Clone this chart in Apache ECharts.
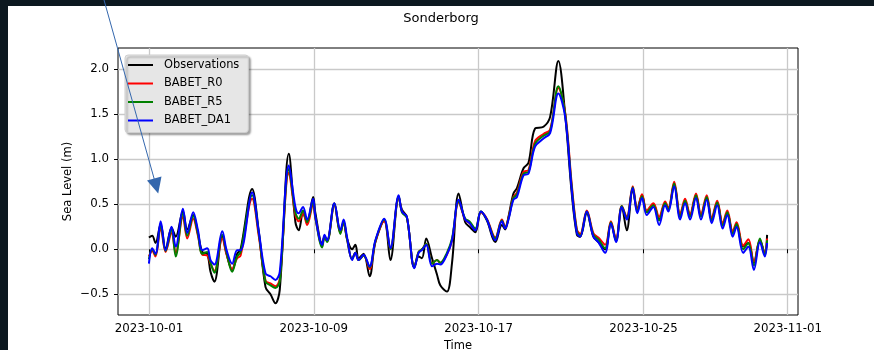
<!DOCTYPE html>
<html>
<head>
<meta charset="utf-8">
<script src="https://cdn.jsdelivr.net/npm/echarts@6/dist/echarts.min.js"></script>
<style>
  html, body { margin: 0; padding: 0; background: #0c1820; }
  #chart { width: 874px; height: 350px; }
</style>
</head>
<body>
<div id="chart"></div>
<script>
// Sea level at Sonderborg, October 2023: observations vs three BABET model runs.
const startDate = '2023-10-01T00:00:00Z';

// Sample times, in days after the start date
const dayOffsets = [
  0.00, 0.16, 0.32, 0.57, 0.81, 1.10, 1.30, 1.65, 1.86, 2.15,
  2.38, 2.59, 2.83, 2.99, 3.18, 3.56, 3.77, 4.04, 4.28, 4.45,
  5.01, 5.33, 5.66, 5.90, 6.14, 6.35, 6.79, 7.11, 7.27, 7.48,
  7.68, 7.97, 8.08, 8.41, 8.52, 8.65, 9.00, 9.29, 9.45, 9.61,
  9.86, 10.02, 10.18, 10.42, 10.71, 10.99, 11.42, 11.72, 12.12, 12.28,
  12.52, 12.88, 13.09, 13.25, 13.46, 13.74, 13.98, 14.14, 14.46, 14.71,
  15.03, 15.35, 15.56, 15.84, 16.11, 16.40, 16.81, 17.13, 17.29, 17.45,
  17.69, 17.86, 18.18, 18.42, 18.74, 19.15, 19.47, 19.87, 20.20, 20.52,
  20.77, 20.93, 21.25, 21.57, 21.81, 22.14, 22.42, 22.67, 22.95, 23.19,
  23.48, 23.70, 23.93, 24.16, 24.48, 24.76, 25.05, 25.21, 25.49, 25.78,
  26.02, 26.26, 26.55, 26.79, 27.07, 27.31, 27.58, 27.84, 28.07, 28.33,
  28.52, 28.84, 29.09, 29.36, 29.65, 29.89, 30.00
];

const observations = [
  0.13, 0.15, 0.07, 0.28, 0.00, 0.24, 0.14, 0.42, 0.22, 0.38,
  0.18, -0.03, -0.05, -0.25, -0.36, 0.15, -0.05, -0.23, -0.05, 0.00,
  0.67, 0.20, -0.42, -0.50, -0.60, -0.45, 1.06, 0.30, 0.21, 0.40,
  0.30, 0.58, 0.40, 0.06, 0.14, 0.10, 0.51, 0.20, 0.30, 0.12,
  0.00, 0.05, -0.10, -0.05, -0.30, 0.08, 0.32, -0.12, 0.58, 0.44,
  0.36, -0.20, -0.08, -0.10, 0.12, -0.10, -0.28, -0.40, -0.47, -0.15,
  0.62, 0.30, 0.25, 0.19, 0.42, 0.32, 0.08, 0.27, 0.22, 0.36,
  0.62, 0.68, 0.90, 0.96, 1.34, 1.36, 1.47, 2.09, 1.50, 0.62,
  0.16, 0.14, 0.40, 0.14, 0.08, 0.00, 0.29, 0.10, 0.47, 0.21,
  0.66, 0.45, 0.60, 0.42, 0.50, 0.33, 0.51, 0.45, 0.72, 0.37,
  0.53, 0.37, 0.60, 0.37, 0.57, 0.33, 0.52, 0.28, 0.40, 0.19,
  0.27, 0.03, 0.07, -0.15, 0.10, -0.05, 0.16
];

const babetR0 = [
  -0.08, -0.02, -0.08, 0.24, -0.03, 0.18, -0.04, 0.36, 0.12, 0.34,
  0.15, -0.06, -0.07, -0.16, -0.24, 0.12, -0.06, -0.22, -0.10, -0.07,
  0.56, 0.15, -0.35, -0.38, -0.41, -0.33, 0.85, 0.38, 0.31, 0.40,
  0.27, 0.50, 0.34, 0.04, 0.14, 0.09, 0.49, 0.18, 0.30, 0.12,
  -0.11, -0.04, -0.12, -0.07, -0.22, 0.08, 0.31, 0.00, 0.58, 0.42,
  0.35, -0.20, -0.03, 0.00, 0.06, -0.16, -0.12, -0.15, -0.06, 0.10,
  0.52, 0.33, 0.29, 0.22, 0.41, 0.34, 0.13, 0.33, 0.25, 0.35,
  0.58, 0.63, 0.86, 0.88, 1.20, 1.28, 1.33, 1.79, 1.52, 0.72,
  0.22, 0.17, 0.43, 0.18, 0.13, 0.05, 0.31, 0.11, 0.48, 0.36,
  0.70, 0.44, 0.61, 0.43, 0.51, 0.36, 0.53, 0.46, 0.75, 0.39,
  0.56, 0.39, 0.62, 0.39, 0.60, 0.35, 0.54, 0.29, 0.43, 0.20,
  0.30, 0.04, 0.11, -0.14, 0.10, -0.04, 0.12
];

const babetR5 = [
  -0.11, 0.00, -0.06, 0.27, -0.02, 0.22, -0.08, 0.40, 0.15, 0.37,
  0.17, -0.05, -0.03, -0.15, -0.26, 0.16, -0.04, -0.25, -0.08, -0.03,
  0.60, 0.18, -0.36, -0.40, -0.43, -0.35, 0.89, 0.41, 0.34, 0.43,
  0.30, 0.53, 0.35, 0.02, 0.13, 0.08, 0.50, 0.17, 0.31, 0.12,
  -0.11, -0.04, -0.12, -0.07, -0.20, 0.09, 0.33, 0.00, 0.59, 0.41,
  0.35, -0.20, -0.03, 0.00, 0.06, -0.16, -0.12, -0.15, -0.04, 0.12,
  0.53, 0.34, 0.31, 0.23, 0.42, 0.33, 0.12, 0.32, 0.24, 0.34,
  0.57, 0.61, 0.84, 0.86, 1.17, 1.26, 1.31, 1.81, 1.50, 0.69,
  0.20, 0.15, 0.42, 0.16, 0.11, 0.01, 0.30, 0.09, 0.48, 0.34,
  0.69, 0.42, 0.59, 0.41, 0.49, 0.32, 0.51, 0.44, 0.73, 0.36,
  0.54, 0.36, 0.60, 0.36, 0.58, 0.32, 0.52, 0.26, 0.41, 0.17,
  0.28, 0.00, 0.07, -0.18, 0.12, -0.06, 0.10
];

const babetDA1 = [
  -0.16, 0.01, -0.05, 0.31, -0.01, 0.25, 0.03, 0.45, 0.18, 0.41,
  0.21, -0.01, 0.01, -0.12, -0.17, 0.20, -0.01, -0.16, -0.01, -0.01,
  0.63, 0.20, -0.27, -0.30, -0.34, -0.25, 0.93, 0.47, 0.40, 0.47,
  0.33, 0.56, 0.36, 0.05, 0.16, 0.10, 0.51, 0.21, 0.33, 0.14,
  -0.12, -0.04, -0.12, -0.06, -0.19, 0.10, 0.34, 0.01, 0.60, 0.42,
  0.36, -0.21, -0.04, -0.01, 0.05, -0.19, -0.16, -0.17, -0.06, 0.10,
  0.55, 0.33, 0.29, 0.21, 0.42, 0.33, 0.10, 0.31, 0.23, 0.33,
  0.55, 0.58, 0.82, 0.84, 1.14, 1.23, 1.29, 1.73, 1.47, 0.66,
  0.18, 0.14, 0.42, 0.14, 0.08, -0.04, 0.29, 0.08, 0.47, 0.33,
  0.68, 0.40, 0.57, 0.38, 0.47, 0.27, 0.49, 0.42, 0.70, 0.33,
  0.51, 0.33, 0.57, 0.33, 0.55, 0.29, 0.49, 0.23, 0.38, 0.14,
  0.25, -0.04, 0.03, -0.23, 0.08, -0.08, 0.07
];

const xTickLabels = ['2023-10-01', '2023-10-09', '2023-10-17', '2023-10-25', '2023-11-01'];
const yTickValues = [-0.5, 0.0, 0.5, 1.0, 1.5, 2.0];

const DAY = 86400000;
const t0 = Date.parse(startDate);
const xTicks = xTickLabels.map(s => Date.parse(s + 'T00:00:00Z'));
const pairs = vals => dayOffsets.map((d, i) => [t0 + d * DAY, vals[i]]);

const FONT = 'DejaVu Sans';
const chart = echarts.init(document.getElementById('chart'), null, { renderer: 'canvas' });

function lineSeries(name, vals, color) {
  return {
    name, type: 'line', data: pairs(vals),
    symbol: 'none', smooth: 0.35,
    lineStyle: { color, width: 2 }, itemStyle: { color },
    emphasis: { disabled: true }
  };
}

chart.setOption({
  backgroundColor: '#0c1820',
  animation: false,
  grid: {
    left: 118, top: 48, width: 680, height: 267, outerBoundsMode: 'none',
    show: true, borderColor: '#000', borderWidth: 1, backgroundColor: 'transparent'
  },
  xAxis: {
    // time in milliseconds on a linear scale
    type: 'value',
    min: t0 - 1.5 * DAY, max: t0 + 31.5 * DAY,
    name: 'Time', nameLocation: 'middle', nameGap: 22,
    nameTextStyle: { fontFamily: FONT, fontSize: 11.5, color: '#000' },
    axisLine: { show: false },
    axisTick: { show: true, length: 4, lineStyle: { color: '#000' }, customValues: xTicks },
    axisLabel: {
      fontFamily: FONT, fontSize: 11.8, color: '#000', margin: 8, customValues: xTicks,
      formatter: v => { const i = xTicks.indexOf(v); return i >= 0 ? xTickLabels[i] : ''; }
    },
    splitLine: { show: true, lineStyle: { color: '#c9c9c9', width: 1.3 } }
  },
  yAxis: {
    type: 'value', min: -0.73, max: 2.235,
    name: 'Sea Level (m)', nameLocation: 'middle', nameGap: 44, nameRotate: 90,
    nameMoveOverlap: false,
    nameTextStyle: { fontFamily: FONT, fontSize: 11.5, color: '#000' },
    axisLine: { show: false },
    axisTick: { show: true, length: 4, lineStyle: { color: '#000' }, customValues: yTickValues },
    axisLabel: {
      fontFamily: FONT, fontSize: 11.8, color: '#000', margin: 9, customValues: yTickValues,
      formatter: v => (v < 0 ? '\u2212' : '') + Math.abs(v).toFixed(1)
    },
    splitLine: { show: true, lineStyle: { color: '#c9c9c9', width: 1.3 } }
  },
  legend: {
    orient: 'vertical', left: 125, top: 55,
    padding: [4.5, 9, 6.5, 3],
    icon: 'rect', itemWidth: 25, itemHeight: 2, itemGap: 7.5,
    backgroundColor: '#e6e6e6', borderColor: '#cfcfcf', borderWidth: 1, borderRadius: 3,
    shadowColor: 'rgba(0,0,0,0.35)', shadowBlur: 2, shadowOffsetX: 2, shadowOffsetY: 2,
    textStyle: { fontFamily: FONT, fontSize: 11.4, color: '#000', padding: [0, 0, 0, 6] },
    data: ['Observations', 'BABET_R0', 'BABET_R5', 'BABET_DA1']
  },
  graphic: [
    { type: 'rect', z: -100, silent: true, shape: { x: 8, y: 6, width: 866, height: 344 }, style: { fill: '#ffffff' } },
    { type: 'text', z: 10, x: 441, y: 19, style: { text: 'Sonderborg', font: '13px "DejaVu Sans"', fill: '#000', align: 'center', verticalAlign: 'middle' } },
    { type: 'line', z: 100, silent: true, shape: { x1: 104, y1: 0, x2: 154.5, y2: 180 }, style: { stroke: '#3467ad', lineWidth: 1 } },
    { type: 'polygon', z: 100, silent: true, shape: { points: [[147, 180.6], [161.5, 176.4], [158.2, 193.5]] }, style: { fill: '#3467ad' } }
  ],
  series: [
    lineSeries('Observations', observations, '#000000'),
    lineSeries('BABET_R0', babetR0, '#ff0000'),
    lineSeries('BABET_R5', babetR5, '#008000'),
    lineSeries('BABET_DA1', babetDA1, '#0000ff')
  ]
});
</script>
</body>
</html>
